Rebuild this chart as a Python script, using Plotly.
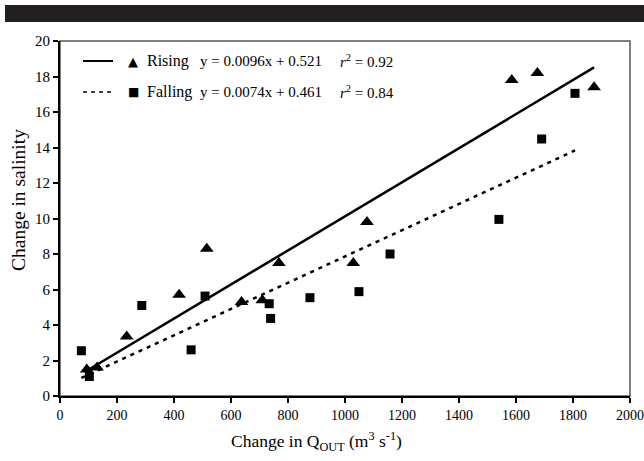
import plotly.graph_objects as go

# ---- data ----
rising_x = [94, 130, 234, 418, 515, 637, 710, 768, 1029, 1077, 1585, 1675, 1874]
rising_y = [1.5, 1.6, 3.35, 5.7, 8.3, 5.3, 5.4, 7.5, 7.5, 9.8, 17.8, 18.2, 17.4]
falling_x = [75, 103, 287, 460, 509, 734, 739, 877, 1049, 1158, 1540, 1690, 1807]
falling_y = [2.55, 1.1, 5.1, 2.6, 5.63, 5.2, 4.37, 5.54, 5.88, 8.0, 9.95, 14.48, 17.05]
rising_fit = (0.0096, 0.521, 0.92)
falling_fit = (0.0074, 0.461, 0.84)
x_ticks = list(range(0, 2001, 200))
y_ticks = list(range(0, 21, 2))
x_title = "Change in Q<sub>OUT</sub> (m<sup>3</sup> s<sup>-1</sup>)"
y_title = "Change in salinity"

FONT = "Liberation Serif"
W, H = 644, 461
L, R, T, B = 60, 14, 41, 65
PW, PH = W - L - R, H - T - B


def px2paper(px, py):
    return (px - L) / PW, (H - B - py) / PH


def fit_line(xs, fit):
    x0, x1 = min(xs), max(xs)
    return [x0, x1], [fit[0] * x0 + fit[1], fit[0] * x1 + fit[1]]


fig = go.Figure()
fx, fy = fit_line(rising_x, rising_fit)
fig.add_trace(go.Scatter(x=fx, y=fy, mode="lines", line=dict(color="black", width=2.5), showlegend=False))
fx, fy = fit_line(falling_x, falling_fit)
fig.add_trace(go.Scatter(x=fx, y=fy, mode="lines", line=dict(color="black", width=2.5, dash="4px,5px"), showlegend=False))
fig.add_trace(go.Scatter(x=rising_x, y=rising_y, mode="markers",
                         marker=dict(symbol="triangle-up", size=12, color="black"), showlegend=False))
fig.add_trace(go.Scatter(x=falling_x, y=falling_y, mode="markers",
                         marker=dict(symbol="square", size=9, color="black"), showlegend=False))

shapes = []
# black band at top
bx0, by0 = px2paper(5, 22)
bx1, by1 = px2paper(644, 5)
shapes.append(dict(type="rect", xref="paper", yref="paper", x0=bx0, x1=bx1, y0=by0, y1=by1,
                   fillcolor="#231f20", line=dict(width=0)))
# plot frame
shapes.append(dict(type="rect", xref="paper", yref="paper", x0=0, x1=1, y0=0, y1=1,
                   line=dict(color="#555555", width=1.5), layer="below"))

annotations = []
rows = [("▲", "Rising", rising_fit, 61, 13, "solid"), ("■", "Falling", falling_fit, 92, 12, "4px,4px")]
for sym, name, fit, py, symsize, dash in rows:
    lx0, ly = px2paper(83, py)
    lx1, _ = px2paper(113, py)
    shapes.append(dict(type="line", xref="paper", yref="paper", x0=lx0, x1=lx1, y0=ly, y1=ly,
                       line=dict(color="black", width=2 if dash == "solid" else 1.5, dash=dash)))
    mx, _ = px2paper(133, py)
    annotations.append(dict(xref="paper", yref="paper", x=mx, y=ly, text=sym, showarrow=False,
                            xanchor="center", yanchor="middle", font=dict(family="DejaVu Sans", size=symsize, color="black")))
    nx, _ = px2paper(145, py)
    annotations.append(dict(xref="paper", yref="paper", x=nx, y=ly, text=name, showarrow=False,
                            xanchor="left", yanchor="middle", font=dict(family=FONT, size=16, color="black")))
    ex, _ = px2paper(198, py)
    annotations.append(dict(xref="paper", yref="paper", x=ex, y=ly,
                            text=f"y = {fit[0]:.4f}x + {fit[1]:.3f}", showarrow=False,
                            xanchor="left", yanchor="middle", font=dict(family=FONT, size=15, color="black")))
    rx, _ = px2paper(338, py)
    annotations.append(dict(xref="paper", yref="paper", x=rx, y=ly,
                            text=f"<i>r</i><sup>2</sup> = {fit[2]:.2f}", showarrow=False,
                            xanchor="left", yanchor="middle", font=dict(family=FONT, size=15, color="black")))

# axis titles (offset from centre as in the original)
tx, ty = px2paper(316, 441)
annotations.append(dict(xref="paper", yref="paper", x=tx, y=ty, text=x_title, showarrow=False,
                        xanchor="center", yanchor="middle", font=dict(family=FONT, size=17.5, color="black")))
tx, ty = px2paper(19, 200)
annotations.append(dict(xref="paper", yref="paper", x=tx, y=ty, text=y_title, showarrow=False, textangle=-90,
                        xanchor="center", yanchor="middle", font=dict(family=FONT, size=19.5, color="black")))

fig.update_layout(
    width=W, height=H,
    margin=dict(l=L, r=R, t=T, b=B, pad=0, autoexpand=False),
    paper_bgcolor="white", plot_bgcolor="white",
    font=dict(family=FONT, color="black", size=14),
    shapes=shapes, annotations=annotations,
    xaxis=dict(range=[0, 2000], tickvals=x_ticks, ticktext=[str(v) for v in x_ticks],
               showgrid=False, zeroline=False, showline=True, linecolor="black", linewidth=2,
               ticks="outside", ticklen=5, tickwidth=1.5, tickcolor="black", automargin=False,
               tickfont=dict(family=FONT, size=14)),
    yaxis=dict(range=[0, 20], tickvals=y_ticks, ticktext=[str(v) for v in y_ticks],
               showgrid=False, zeroline=False, showline=True, linecolor="black", linewidth=2,
               ticks="outside", ticklen=5, tickwidth=1.5, tickcolor="black", automargin=False,
               tickfont=dict(family=FONT, size=15)),
)

fig.write_html("out.html")
